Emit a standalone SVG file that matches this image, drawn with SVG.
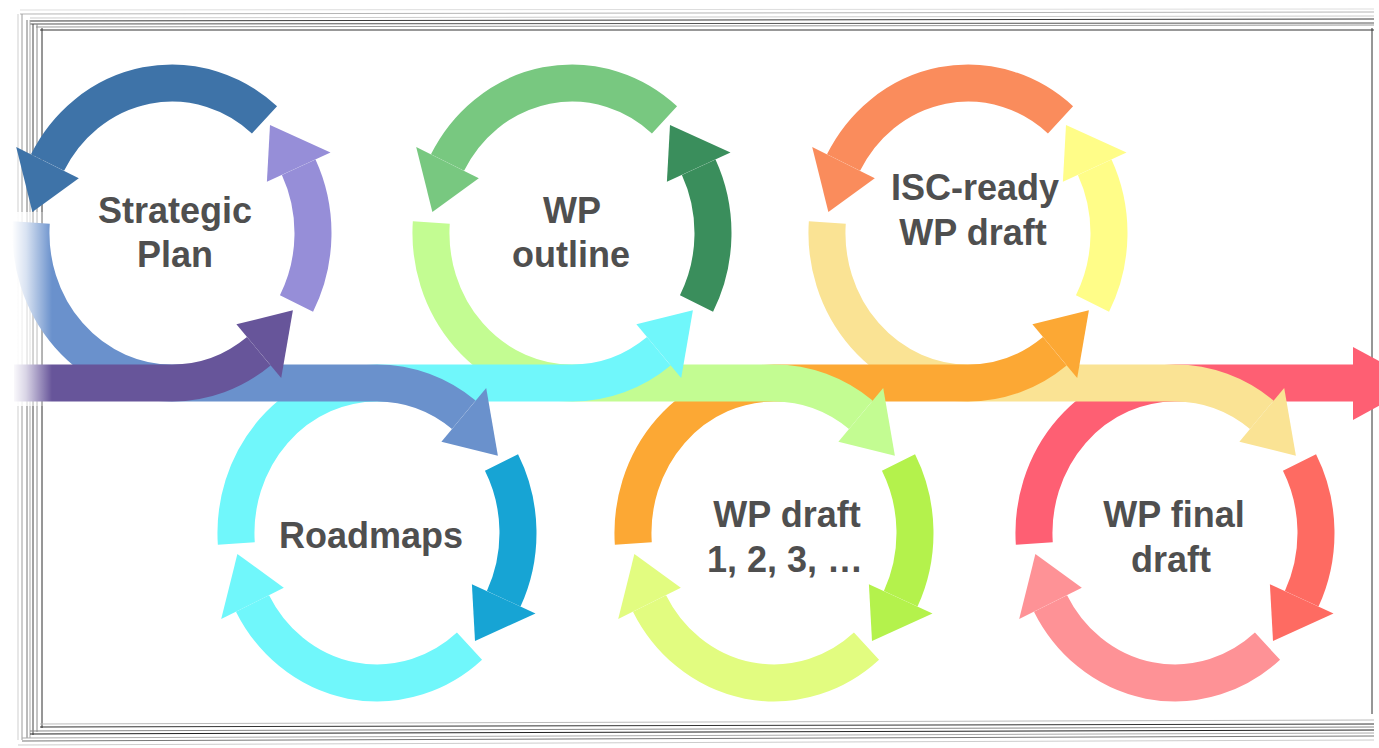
<svg xmlns="http://www.w3.org/2000/svg" width="1379" height="748" viewBox="0 0 1379 748">
<defs>
<style>
.arc{fill:none;stroke-width:37;stroke-linecap:butt}
.lbl{font-family:"Liberation Sans",Arial,Helvetica,sans-serif;font-weight:bold;font-size:36px;fill:#4f4f4f;text-anchor:middle}
.fr{stroke-width:1;fill:none}
</style>
<linearGradient id="fade" x1="0" y1="0" x2="1" y2="0">
<stop offset="0" stop-color="#fff" stop-opacity="1"/>
<stop offset="0.35" stop-color="#fff" stop-opacity="0.75"/>
<stop offset="1" stop-color="#fff" stop-opacity="0"/>
</linearGradient>
</defs>
<rect width="1379" height="748" fill="#fff"/>
<g id="frame">
<line class="fr" x1="20" y1="10" x2="1374" y2="9" stroke="#dddddd"/>
<line class="fr" x1="20" y1="14" x2="1374" y2="12" stroke="#b5b5b5"/>
<line class="fr" x1="30" y1="18" x2="1374" y2="16" stroke="#cccccc"/>
<line class="fr" x1="30" y1="21" x2="1374" y2="19" stroke="#3a3a3a"/>
<line class="fr" x1="30" y1="24" x2="1374" y2="23" stroke="#555555"/>
<line class="fr" x1="36" y1="27" x2="1374" y2="25" stroke="#999999"/>
<line class="fr" x1="40" y1="30" x2="1374" y2="30" stroke="#333333"/>
<line class="fr" x1="18" y1="14" x2="18" y2="740" stroke="#cfcfcf"/>
<line class="fr" x1="22" y1="14" x2="22" y2="740" stroke="#9a9a9a"/>
<line class="fr" x1="27" y1="20" x2="27" y2="738" stroke="#777777"/>
<line class="fr" x1="30" y1="20" x2="30" y2="738" stroke="#aaaaaa"/>
<line class="fr" x1="33" y1="24" x2="33" y2="735" stroke="#444444"/>
<line class="fr" x1="37" y1="24" x2="37" y2="732" stroke="#888888"/>
<line class="fr" x1="42" y1="28" x2="42" y2="728" stroke="#2e2e2e"/>
<line class="fr" x1="1372" y1="28" x2="1372" y2="714" stroke="#2e2e2e"/>
<line class="fr" x1="40" y1="724" x2="1374" y2="720" stroke="#bbbbbb"/>
<line class="fr" x1="40" y1="727" x2="1374" y2="724" stroke="#333333"/>
<line class="fr" x1="30" y1="731" x2="1374" y2="727" stroke="#888888"/>
<line class="fr" x1="30" y1="734" x2="1374" y2="730" stroke="#222222"/>
<line class="fr" x1="22" y1="738" x2="1374" y2="733" stroke="#aaaaaa"/>
<line class="fr" x1="22" y1="741" x2="1374" y2="736" stroke="#777777"/>
<line class="fr" x1="18" y1="745" x2="1374" y2="740" stroke="#cccccc"/>
</g>
<g id="connectors">
<g id="band-final" fill="#fe5f73">
<path class="arc" stroke="#fe5f73" d="M1034.3 543.5 A141 150 0 0 1 1175 383 H1354"/>
<polygon points="1353,347 1420,383 1353,420"/>
</g>
<g id="band-isc-final" fill="#fae394">
<path class="arc" stroke="#fae394" d="M827.3 222.5 A141 150 0 0 0 968 383 H1175 A141 150 0 0 1 1261.8 414.8"/>
<polygon points="1284.2,387.9 1295.9,455.7 1239.4,441.7"/>
</g>
<g id="band-draft-isc" fill="#fca834">
<path class="arc" stroke="#fca834" d="M633.3 543.5 A141 150 0 0 1 774 383 H968 A141 150 0 0 0 1054.8 351.2"/>
<polygon points="1077.2,378.1 1088.9,310.3 1032.4,324.3"/>
</g>
<g id="band-outline-draft" fill="#c3fc92">
<path class="arc" stroke="#c3fc92" d="M431.3 222.5 A141 150 0 0 0 572 383 H774 A141 150 0 0 1 860.8 414.8"/>
<polygon points="883.2,387.9 894.9,455.7 838.4,441.7"/>
</g>
<g id="band-roadmaps-outline" fill="#70f7fb">
<path class="arc" stroke="#70f7fb" d="M236.3 543.5 A141 150 0 0 1 377 383 H572 A141 150 0 0 0 658.8 351.2"/>
<polygon points="681.2,378.1 692.9,310.3 636.4,324.3"/>
</g>
<g id="band-plan-roadmaps" fill="#6a91cc">
<path class="arc" stroke="#6a91cc" d="M31.3 222.5 A141 150 0 0 0 172 383 H377 A141 150 0 0 1 463.8 414.8"/>
<polygon points="486.2,387.9 497.9,455.7 441.4,441.7"/>
</g>
<g id="band-start" fill="#67559a">
<path class="arc" stroke="#67559a" d="M14 383 H172 A141 150 0 0 0 258.8 351.2"/>
<polygon points="281.2,378.1 292.9,310.3 236.4,324.3"/>
</g>
</g>
<rect x="12" y="212" width="40" height="194" fill="url(#fade)"/>
<g id="node-strategic-plan">
<path class="arc" stroke="#968ed8" d="M296.5 303.4 A141 150 0 0 0 298.7 167.2"/>
<polygon fill="#968ed8" points="330.5,152.6 270,125.1 266.9,181.8"/>
<path class="arc" stroke="#3e73a8" d="M264.5 119.8 A141 150 0 0 0 47.5 162.6"/>
<polygon fill="#3e73a8" points="16.2,147 32.4,212.1 78.8,178.2"/>
<text class="lbl" x="175" y="223">Strategic</text>
<text class="lbl" x="175" y="267">Plan</text>
</g>
<g id="node-roadmaps">
<path class="arc" stroke="#17a4d4" d="M501.5 462.6 A141 150 0 0 1 503.7 598.8"/>
<polygon fill="#17a4d4" points="535.5,613.4 475,640.9 471.9,584.2"/>
<path class="arc" stroke="#70f7fb" d="M469.5 646.2 A141 150 0 0 1 252.5 603.4"/>
<polygon fill="#70f7fb" points="221.2,619 237.4,553.9 283.8,587.8"/>
<text class="lbl" x="371" y="548">Roadmaps</text>
</g>
<g id="node-wp-outline">
<path class="arc" stroke="#3a8e5c" d="M696.5 303.4 A141 150 0 0 0 698.7 167.2"/>
<polygon fill="#3a8e5c" points="730.5,152.6 670,125.1 666.9,181.8"/>
<path class="arc" stroke="#78c880" d="M664.5 119.8 A141 150 0 0 0 447.5 162.6"/>
<polygon fill="#78c880" points="416.2,147 432.4,212.1 478.8,178.2"/>
<text class="lbl" x="572" y="223">WP</text>
<text class="lbl" x="571" y="267">outline</text>
</g>
<g id="node-wp-draft">
<path class="arc" stroke="#b4f24c" d="M898.5 462.6 A141 150 0 0 1 900.7 598.8"/>
<polygon fill="#b4f24c" points="932.5,613.4 872,640.9 868.9,584.2"/>
<path class="arc" stroke="#e2fc80" d="M866.5 646.2 A141 150 0 0 1 649.5 603.4"/>
<polygon fill="#e2fc80" points="618.2,619 634.4,553.9 680.8,587.8"/>
<text class="lbl" x="787" y="527">WP draft</text>
<text class="lbl" x="785" y="572">1, 2, 3, …</text>
</g>
<g id="node-isc-ready">
<path class="arc" stroke="#fffd88" d="M1092.5 303.4 A141 150 0 0 0 1094.7 167.2"/>
<polygon fill="#fffd88" points="1126.5,152.6 1066,125.1 1062.9,181.8"/>
<path class="arc" stroke="#fa8c5c" d="M1060.5 119.8 A141 150 0 0 0 843.5 162.6"/>
<polygon fill="#fa8c5c" points="812.2,147 828.4,212.1 874.8,178.2"/>
<text class="lbl" x="975" y="200">ISC-ready</text>
<text class="lbl" x="973" y="245">WP draft</text>
</g>
<g id="node-wp-final">
<path class="arc" stroke="#fe6b62" d="M1299.5 462.6 A141 150 0 0 1 1301.7 598.8"/>
<polygon fill="#fe6b62" points="1333.5,613.4 1273,640.9 1269.9,584.2"/>
<path class="arc" stroke="#fe9296" d="M1267.5 646.2 A141 150 0 0 1 1050.5 603.4"/>
<polygon fill="#fe9296" points="1019.2,619 1035.4,553.9 1081.8,587.8"/>
<text class="lbl" x="1174" y="527">WP final</text>
<text class="lbl" x="1171" y="572">draft</text>
</g>
</svg>
